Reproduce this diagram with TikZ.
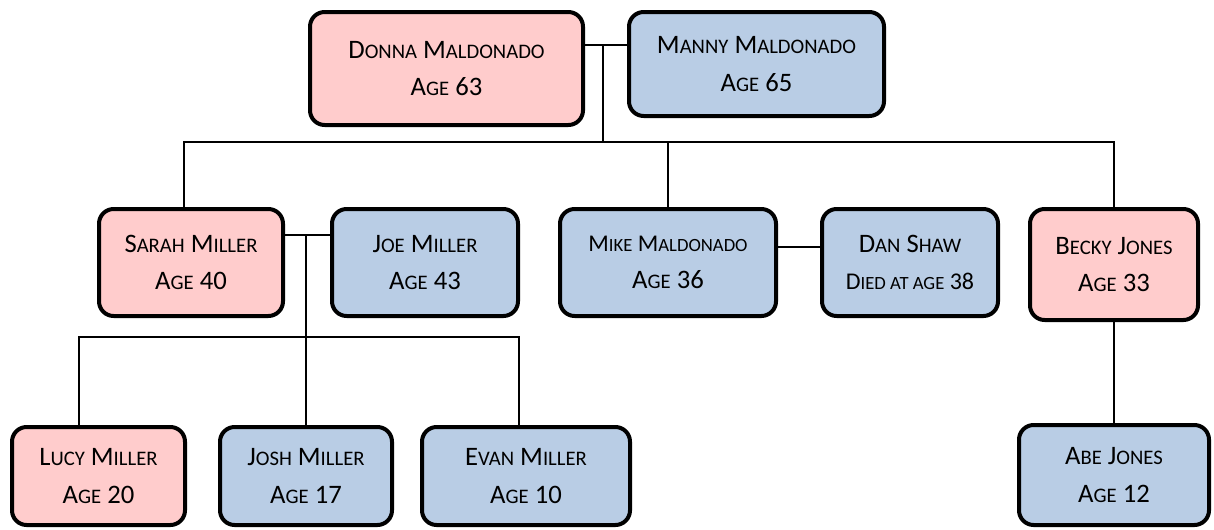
\documentclass[tikz,border=0pt]{standalone}
\usepackage{fontspec}
\setmainfont{Carlito}
\definecolor{herpink}{HTML}{FFCCCC}
\definecolor{hisblue}{HTML}{B9CDE5}
% fake small caps: capital letter, then smaller capitals
\newcommand\nm[2]{#1{\fontsize{15.5}{28}\selectfont #2}}
\newcommand\nmt[2]{#1{\fontsize{14}{28}\selectfont #2}}
\tikzset{
  person/.style={draw=black, line width=3pt, rounded corners=11pt, align=center,
    inner sep=0pt, font=\fontsize{20}{28}\selectfont},
  her/.style={person, fill=herpink},
  him/.style={person, fill=hisblue},
  link/.style={draw=black, line width=1.5pt},
}
\begin{document}
\begin{tikzpicture}
  [
    x=0.75pt, y=-0.75pt,
  ]
  \useasboundingbox (0,0) rectangle (1214,529);

  % grandparents
  \node [her, minimum width=273*0.75, minimum height=113*0.75] (donna) at (446.5,68.5)
    {\nm{D}{ONNA} \nm{M}{ALDONADO}\\\nm{A}{GE} 63};
  \node [him, minimum width=255*0.75, minimum height=104*0.75] (manny) at (756.5,64)
    {\nm{M}{ANNY} \nm{M}{ALDONADO}\\\nm{A}{GE} 65};

  % children
  \node [her, minimum width=184*0.75, minimum height=107*0.75] (sarah) at (191,262.5)
    {\nm{S}{ARAH} \nm{M}{ILLER}\\\nm{A}{GE} 40};
  \node [him, minimum width=186*0.75, minimum height=107*0.75] (joe) at (425,262.5)
    {\nm{J}{OE} \nm{M}{ILLER}\\\nm{A}{GE} 43};
  \node [him, minimum width=216*0.75, minimum height=107*0.75] (mike) at (668,262.5)
    {{\fontsize{18}{28}\selectfont\nmt{M}{IKE} \nmt{M}{ALDONADO}}\\\nm{A}{GE} 36};
  \node [him, minimum width=176*0.75, minimum height=107*0.75] (dan) at (910,262.5)
    {\nm{D}{AN} \nm{S}{HAW}\\{\fontsize{18}{28}\selectfont\nmt{D}{IED AT AGE} 38}};
  \node [her, minimum width=168*0.75, minimum height=111*0.75] (becky) at (1114,264.5)
    {\nm{B}{ECKY} \nm{J}{ONES}\\\nm{A}{GE} 33};

  % grandchildren
  \node [her, minimum width=173*0.75, minimum height=98*0.75] (lucy) at (98.5,476)
    {\nm{L}{UCY} \nm{M}{ILLER}\\\nm{A}{GE} 20};
  \node [him, minimum width=172*0.75, minimum height=98*0.75] (josh) at (306,476)
    {\nm{J}{OSH} \nm{M}{ILLER}\\\nm{A}{GE} 17};
  \node [him, minimum width=208*0.75, minimum height=98*0.75] (evan) at (526,476)
    {\nm{E}{VAN} \nm{M}{ILLER}\\\nm{A}{GE} 10};
  \node [him, minimum width=190*0.75, minimum height=100*0.75] (abe) at (1114,475)
    {\nm{A}{BE} \nm{J}{ONES}\\\nm{A}{GE} 12};

  % couples
  \coordinate (dmjoin) at (603,45);
  \coordinate (topbar) at (603,142);
  \coordinate (sjjoin) at (306,235);
  \coordinate (kidbar) at (306,337);
  \draw [link] (donna.east |- dmjoin) -- (manny.west |- dmjoin);
  \draw [link] (sarah.east |- sjjoin) -- (joe.west |- sjjoin);
  \draw [link] ([yshift=12pt]mike.east) -- ([yshift=12pt]dan.west);

  % descent
  \draw [link] (dmjoin) -- (topbar);
  \draw [link] ([xshift=-5pt]sarah.north) |- (topbar) -| (becky.north);
  \draw [link] (mike.north) -- (mike.north |- topbar);
  \draw [link] (sjjoin) -- (josh.north);
  \draw [link] ([xshift=-15pt]lucy.north) |- (kidbar) -| ([xshift=-5pt]evan.north);
  \draw [link] (becky.south) -- (abe.north);

\end{tikzpicture}
\end{document}
